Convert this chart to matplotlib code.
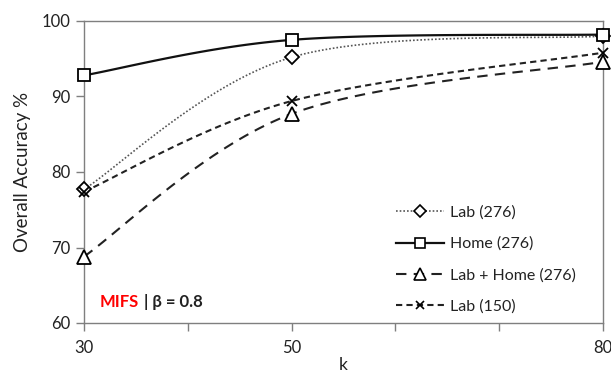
import numpy as np
import matplotlib
matplotlib.use("Agg")
import matplotlib.pyplot as plt
from matplotlib.lines import Line2D

# data
k_values = [30, 50, 80]
lab_276 = [77.7, 95.2, 98.0]
home_276 = [92.8, 97.5, 98.2]
lab_home_276 = [68.8, 87.7, 94.6]
lab_150 = [77.4, 89.4, 95.8]

series_names = ["Lab (276)", "Home (276)", "Lab + Home (276)", "Lab (150)"]

plt.rcParams['font.family'] = ['Lato', 'DejaVu Sans']


def smooth(xs, ys, n=40):
    # Excel-like smoothed line: Catmull-Rom style cubic Bezier segments
    p = np.column_stack([xs, ys]).astype(float)
    p_ext = np.vstack([p[0], p, p[-1]])
    out = []
    t = np.linspace(0, 1, n)[:, None]
    for i in range(len(p) - 1):
        p0, p1, p2, p3 = p_ext[i], p_ext[i + 1], p_ext[i + 2], p_ext[i + 3]
        c1 = p1 + (p2 - p0) / 6.0
        c2 = p2 - (p3 - p1) / 6.0
        seg = ((1 - t) ** 3) * p1 + 3 * ((1 - t) ** 2) * t * c1 + 3 * (1 - t) * t ** 2 * c2 + t ** 3 * p2
        out.append(seg if i == 0 else seg[1:])
    out = np.vstack(out)
    return out[:, 0], out[:, 1]


fig = plt.figure(figsize=(6.11, 3.76), dpi=100)
ax = fig.add_axes([84 / 611, 53 / 376, 519 / 611, 302 / 376])

styles = [
    dict(color='#555555', linestyle=(0, (1, 1.2)), linewidth=1.2, marker='D', ms=7.5),
    dict(color='#111111', linestyle='-', linewidth=1.6, marker='s', ms=8),
    dict(color='#222222', linestyle=(0, (5, 3.5)), linewidth=1.5, marker='^', ms=10.5),
    dict(color='#222222', linestyle=(0, (3, 2)), linewidth=1.5, marker='x', ms=7.5),
]

handles = []
for name, ys, st in zip(series_names, [lab_276, home_276, lab_home_276, lab_150], styles):
    sx, sy = smooth(k_values, ys)
    ax.plot(sx, sy, color=st['color'], linestyle=st['linestyle'], linewidth=st['linewidth'],
            zorder=2, clip_on=False)
    ax.plot(k_values, ys, linestyle='none', marker=st['marker'], markersize=st['ms'],
            markerfacecolor='white', markeredgecolor='black', markeredgewidth=1.3,
            zorder=3, clip_on=False)
    handles.append(Line2D([], [], color=st['color'], linestyle=st['linestyle'], linewidth=st['linewidth'],
                          marker=st['marker'], markersize=st['ms'] * 0.85, markerfacecolor='white',
                          markeredgecolor='black', markeredgewidth=1.2, label=name))

ax.set_xlim(30, 80)
ax.set_ylim(60, 100)
ax.set_xticks([30, 40, 50, 60, 70, 80])
ax.set_xticklabels(['30', '', '50', '', '', '80'])
ax.set_yticks([60, 70, 80, 90, 100])

for s in ax.spines.values():
    s.set_color('#7f7f7f')
    s.set_linewidth(1.0)
ax.tick_params(axis='both', colors='#7f7f7f', labelcolor='#222222', labelsize=12,
               length=6, width=1.0, direction='out')
ax.tick_params(axis='x', pad=6)

ax.set_xlabel('k', fontsize=12.5, color='#222222', labelpad=1)
ax.set_ylabel('Overall Accuracy %', fontsize=13.5, color='#222222', labelpad=8)

leg = ax.legend(handles=handles, loc='lower right', frameon=False, fontsize=11.5,
                handlelength=3.0, handletextpad=0.35, labelspacing=1.07,
                bbox_to_anchor=(0.975, -0.018))
for t in leg.get_texts():
    t.set_color('#222222')

mifs = ax.text(0.03, 0.07, 'MIFS', transform=ax.transAxes, color='red', fontsize=12,
               fontweight='bold', va='center', ha='left')
ax.annotate('| \u03b2 = 0.8', xy=(1, 0.5), xycoords=mifs, xytext=(4, 0),
            textcoords='offset points', color='#222222', fontsize=12,
            fontweight='bold', va='center', ha='left')

fig.savefig('out.png', dpi=100)
